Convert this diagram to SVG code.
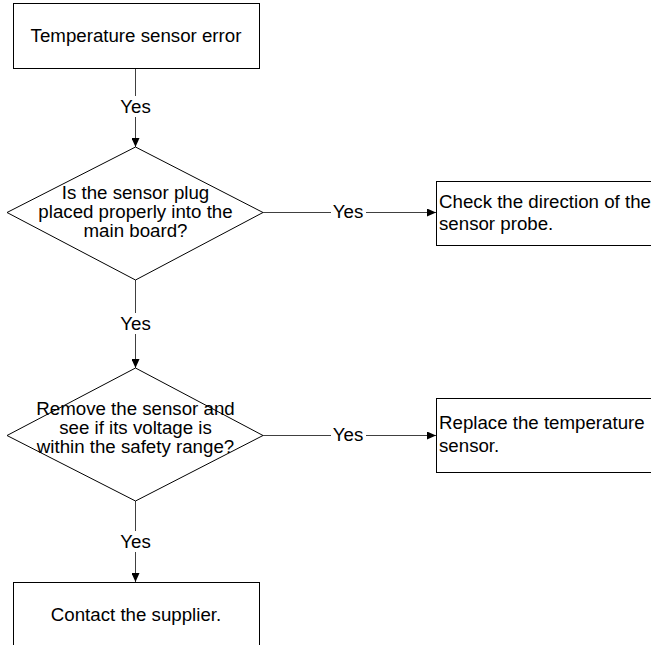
<svg xmlns="http://www.w3.org/2000/svg" width="651" height="645" viewBox="0 0 651 645">
<style>
.box{fill:#fff;stroke:#000;stroke-width:1}
.t{font-family:"Liberation Sans",Arial,sans-serif;font-size:18.7px;fill:#000}
.c{text-anchor:middle}
.ln{stroke:#404040;stroke-width:1;fill:none}
.lbl{fill:#fff}
</style>
<defs>
<marker id="ah" markerWidth="10" markerHeight="8" refX="9" refY="4" orient="auto" markerUnits="userSpaceOnUse">
<path d="M0,0 L9,4 L0,8 Z" fill="#000"/>
</marker>
</defs>
<rect width="651" height="645" fill="#fff"/>
<g id="connectors">
<line class="ln" x1="135.5" y1="68" x2="135.5" y2="147" marker-end="url(#ah)"/>
<rect class="lbl" x="118" y="96" width="35" height="21"/>
<text class="t c" x="135.5" y="113">Yes</text>
<line class="ln" x1="263" y1="212.5" x2="436" y2="212.5" marker-end="url(#ah)"/>
<rect class="lbl" x="331" y="202" width="35" height="20"/>
<text class="t c" x="348" y="218">Yes</text>
<line class="ln" x1="135.5" y1="280" x2="135.5" y2="368" marker-end="url(#ah)"/>
<rect class="lbl" x="118" y="313" width="35" height="21"/>
<text class="t c" x="135.5" y="330">Yes</text>
<line class="ln" x1="263" y1="435.5" x2="436" y2="435.5" marker-end="url(#ah)"/>
<rect class="lbl" x="331" y="425" width="35" height="20"/>
<text class="t c" x="348" y="441">Yes</text>
<line class="ln" x1="135.5" y1="501" x2="135.5" y2="582" marker-end="url(#ah)"/>
<rect class="lbl" x="118" y="531" width="35" height="21"/>
<text class="t c" x="135.5" y="548">Yes</text>
</g>
<g id="start">
<rect class="box" x="13.5" y="3.5" width="246" height="65"/>
<text class="t c" x="136" y="42">Temperature sensor error</text>
</g>
<g id="decision1">
<polygon class="box" points="135.5,147 263,212.5 135.5,280 7,212.5" fill="none" style="fill:none"/>
<text class="t c" x="135.5" y="199">Is the sensor plug</text>
<text class="t c" x="135.5" y="218">placed properly into the</text>
<text class="t c" x="135.5" y="237">main board?</text>
</g>
<g id="action1">
<rect class="box" x="436.5" y="181.5" width="220" height="64"/>
<text class="t" x="439" y="208">Check the direction of the</text>
<text class="t" x="439" y="230">sensor probe.</text>
</g>
<g id="decision2">
<polygon class="box" points="135.5,368 263,435.5 135.5,501 7,435.5" style="fill:none"/>
<text class="t c" x="135.5" y="415">Remove the sensor and</text>
<text class="t c" x="135.5" y="434">see if its voltage is</text>
<text class="t c" x="135.5" y="453">within the safety range?</text>
</g>
<g id="action2">
<rect class="box" x="436.5" y="398.5" width="220" height="74"/>
<text class="t" x="439" y="429">Replace the temperature</text>
<text class="t" x="439" y="452">sensor.</text>
</g>
<g id="end">
<rect class="box" x="13.5" y="582.5" width="246" height="70"/>
<text class="t c" x="136" y="621">Contact the supplier.</text>
</g>
</svg>
